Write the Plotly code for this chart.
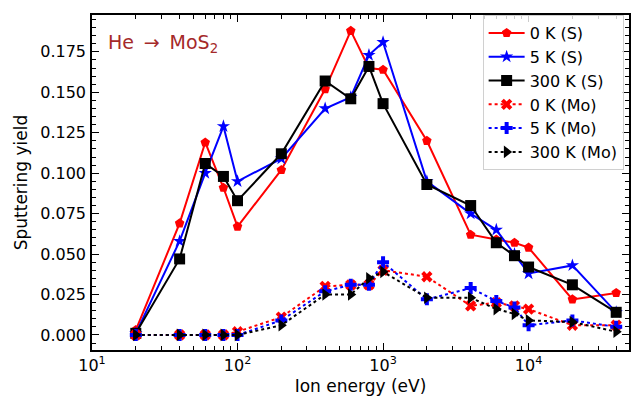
import plotly.graph_objects as go

energy = [20, 40, 60, 80, 100, 200, 400, 600, 800, 1000, 2000, 4000, 6000, 8000, 10000, 20000, 40000]

s_0K = [0.003, 0.069, 0.119, 0.091, 0.067, 0.102, 0.152, 0.188, 0.165, 0.164, 0.120, 0.062, 0.059, 0.057, 0.054, 0.022, 0.026]
s_5K = [0.001, 0.058, 0.100, 0.129, 0.095, 0.109, 0.140, 0.147, 0.173, 0.181, 0.095, 0.075, 0.065, 0.050, 0.038, 0.043, 0.014]
s_300K = [0.001, 0.047, 0.106, 0.098, 0.083, 0.112, 0.157, 0.146, 0.166, 0.143, 0.093, 0.080, 0.057, 0.049, 0.042, 0.031, 0.014]

mo_0K = [0.0, 0.0, 0.0, 0.0, 0.002, 0.011, 0.030, 0.031, 0.031, 0.040, 0.036, 0.018, 0.020, 0.018, 0.016, 0.006, 0.006]
mo_5K = [0.0, 0.0, 0.0, 0.0, 0.0, 0.009, 0.027, 0.031, 0.031, 0.045, 0.022, 0.029, 0.021, 0.017, 0.006, 0.009, 0.005]
mo_300K = [0.0, 0.0, 0.0, 0.0, 0.0, 0.006, 0.025, 0.025, 0.035, 0.039, 0.023, 0.023, 0.016, 0.013, 0.009, 0.008, 0.002]

labels = ["0 K (S)", "5 K (S)", "300 K (S)", "0 K (Mo)", "5 K (Mo)", "300 K (Mo)"]
x_tick_vals = [10, 100, 1000, 10000]
x_tick_text = ["10<sup>1</sup>", "10<sup>2</sup>", "10<sup>3</sup>", "10<sup>4</sup>"]

FONT = "DejaVu Sans"
fig = go.Figure()

series = [
    (s_0K, labels[0], "red", "solid", "pentagon", 10),
    (s_5K, labels[1], "blue", "solid", "star", 10),
    (s_300K, labels[2], "black", "solid", "square", 11),
    (mo_0K, labels[3], "red", "dot", "x", 10),
    (mo_5K, labels[4], "blue", "dot", "cross", 10),
    (mo_300K, labels[5], "black", "dot", "triangle-right", 11),
]
for ys, name, col, dash, sym, ms in series:
    fig.add_trace(go.Scatter(
        x=energy, y=ys, name=name, mode="lines+markers",
        line=dict(color=col, width=2, dash=dash),
        marker=dict(symbol=sym, size=ms, color=col, line=dict(width=0)),
    ))

axis_common = dict(
    showline=True, linecolor="black", linewidth=1.5, mirror="allticks",
    ticks="inside", ticklen=7, tickwidth=1.2, tickcolor="black",
    showgrid=False, zeroline=False,
    tickfont=dict(family=FONT, size=16, color="black"),
)
fig.update_xaxes(
    type="log", range=[1, 4.69],
    tickvals=x_tick_vals, ticktext=x_tick_text,
    minor=dict(ticks="inside", ticklen=4, tickwidth=1, tickcolor="black",
               tickvals=[v * m for v in [10, 100, 1000, 10000] for m in range(2, 10)]),
    title=dict(text="Ion energy (eV)", font=dict(family=FONT, size=17, color="black"), standoff=6),
    **axis_common,
)
fig.update_yaxes(
    range=[-0.0093, 0.1978], dtick=0.025, tick0=0, tickformat=".3f",
    minor=dict(ticks="inside", ticklen=4, tickwidth=1, tickcolor="black", dtick=0.005),
    title=dict(text="Sputtering yield", font=dict(family=FONT, size=17, color="black"), standoff=8),
    ticklabelstandoff=1,
    **axis_common,
)

fig.add_annotation(
    x=0.027, y=0.915, xref="paper", yref="paper", xanchor="left", yanchor="middle",
    text="He \u2009\u2192\u2009 MoS<sub>2</sub>", showarrow=False,
    font=dict(family=FONT, size=19, color="#a52a2a"),
)

fig.update_layout(
    width=632, height=396,
    margin=dict(l=92, r=1, t=15, b=46),
    paper_bgcolor="white", plot_bgcolor="white",
    font=dict(family=FONT, size=16, color="black"),
    legend=dict(
        x=0.99, y=1.0, xanchor="right", yanchor="top",
        bgcolor="rgba(255,255,255,0.8)", bordercolor="#d0d0d0", borderwidth=1,
        font=dict(family=FONT, size=16, color="black"),
        tracegroupgap=0, itemwidth=36,
    ),
)

fig.write_html("out.html", config={"displayModeBar": False},
               post_script="document.body.style.margin='0px';")
